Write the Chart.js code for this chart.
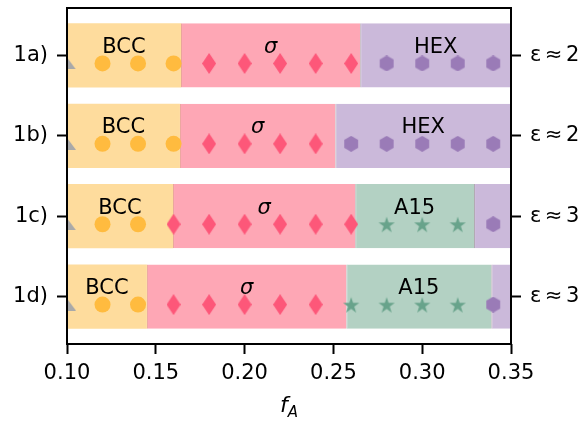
<!DOCTYPE html>
<html>
<head>
<meta charset="utf-8">
<script src="https://cdn.jsdelivr.net/npm/chart.js@4/dist/chart.umd.min.js"></script>
<style>
  html, body { margin: 0; padding: 0; background: #fff; }
  canvas { display: block; }
</style>
</head>
<body>
<canvas id="c" width="582" height="422" style="width:582px;height:422px"></canvas>
<script>
// Row labels (left) and interaction strength (right)
const rowLabels = ['1a)', '1b)', '1c)', '1d)'];
const epsLabels = ['ε\u2006≈\u20062', 'ε\u2006≈\u20062', 'ε\u2006≈\u20063', 'ε\u2006≈\u20063'];
const xTicks = [0.10, 0.15, 0.20, 0.25, 0.30, 0.35];
const fMin = 0.10;
const fMax = 0.35;

// Phase boundaries along f_A for each row
const bccEnd   = [0.1642, 0.1636, 0.1597, 0.1450];
const sigmaEnd = [0.2651, 0.2511, 0.2623, 0.2573];
const a15End   = [null, null, 0.3292, 0.3389];

// Sampled compositions, grouped by the phase found there
const otherPts = [[0.10], [0.10], [0.10], [0.10]];
const bccPts   = [[0.12, 0.14, 0.16], [0.12, 0.14, 0.16], [0.12, 0.14], [0.12, 0.14]];
const sigmaPts = [[0.18, 0.20, 0.22, 0.24, 0.26], [0.18, 0.20, 0.22, 0.24],
                  [0.16, 0.18, 0.20, 0.22, 0.24, 0.26], [0.16, 0.18, 0.20, 0.22, 0.24]];
const a15Pts   = [[], [], [0.28, 0.30, 0.32], [0.26, 0.28, 0.30, 0.32]];
const hexPts   = [[0.28, 0.30, 0.32, 0.34], [0.26, 0.28, 0.30, 0.32, 0.34], [0.34], [0.34]];

const FONT = "'DejaVu Sans', 'Liberation Sans', sans-serif";
const FS = 21;
const MARKER_SHIFT = 0.10;   // markers sit in the lower half of each band
const LABEL_SHIFT = -0.03;   // phase names sit in the upper half (baseline)

// ---- marker glyphs -------------------------------------------------------
function glyph(w, h, color, path) {
  const c = document.createElement('canvas');
  c.width = w; c.height = h;
  const g = c.getContext('2d');
  g.fillStyle = color;
  g.beginPath();
  path(g, w, h);
  g.closePath();
  g.fill();
  return c;
}
const triGlyph = glyph(18, 12, '#a9a9a9', (g, w, h) => {
  g.moveTo(w / 2, 0); g.lineTo(w, h); g.lineTo(0, h);
});
const diamondGlyph = glyph(14, 21, '#fd5779', (g, w, h) => {
  g.moveTo(w / 2, 0); g.lineTo(w, h / 2); g.lineTo(w / 2, h); g.lineTo(0, h / 2);
});
const hexGlyph = glyph(16, 16, '#9a7bb7', (g, w, h) => {
  const r = 8;
  for (let k = 0; k < 6; k++) {
    const a = -Math.PI / 2 + k * Math.PI / 3;
    const px = w / 2 + r * Math.cos(a), py = h / 2 + r * Math.sin(a);
    k ? g.lineTo(px, py) : g.moveTo(px, py);
  }
});
const starGlyph = glyph(18, 18, '#68a38b', (g, w, h) => {
  const R = 8.5, r = R * 0.382;
  for (let k = 0; k < 10; k++) {
    const a = -Math.PI / 2 + k * Math.PI / 5;
    const rr = k % 2 ? r : R;
    const px = w / 2 + rr * Math.cos(a), py = h / 2 + 1 + rr * Math.sin(a);
    k ? g.lineTo(px, py) : g.moveTo(px, py);
  }
});

// ---- phase bands -----------------------------------------------------------
const bands = { BCC: [], sigma: [], A15: [], HEX: [] };
rowLabels.forEach((_, i) => {
  bands.BCC.push({ y: i, x: [fMin, bccEnd[i]] });
  bands.sigma.push({ y: i, x: [bccEnd[i], sigmaEnd[i]] });
  if (a15End[i] !== null) bands.A15.push({ y: i, x: [sigmaEnd[i], a15End[i]] });
  bands.HEX.push({ y: i, x: [a15End[i] !== null ? a15End[i] : sigmaEnd[i], fMax] });
});

function bandSet(data, fill, edge) {
  return {
    type: 'bar', indexAxis: 'y', data,
    xAxisID: 'x', yAxisID: 'y',
    backgroundColor: fill,
    borderColor: edge,
    borderWidth: { left: edge ? 1 : 0, right: 0, top: 0, bottom: 0 },
    borderSkipped: false,
    grouped: false,
    categoryPercentage: 1.0,
    barPercentage: 0.8,
    order: 10
  };
}

function pointSet(rows, style, radius) {
  const data = [];
  rows.forEach((xs, i) => xs.forEach(x => data.push({ x, y: i + MARKER_SHIFT })));
  return {
    type: 'scatter', data,
    xAxisID: 'x', yAxisID: 'y',
    pointStyle: style,
    pointRadius: radius,
    backgroundColor: '#ffbb3f',
    borderWidth: 0,
    showLine: false,
    clip: 0,
    order: 0
  };
}

const datasets = [
  bandSet(bands.BCC, '#fedc9d', null),
  bandSet(bands.sigma, '#fea7b5', '#eaa39a'),
  bandSet(bands.A15, '#b3d1c3', '#a2aaa6'),
  bandSet(bands.HEX, '#cbb9da', '#a9a0aa'),
  pointSet(otherPts, triGlyph, 8),
  pointSet(bccPts, 'circle', 8),
  pointSet(sigmaPts, diamondGlyph, 8),
  pointSet(a15Pts, starGlyph, 8),
  pointSet(hexPts, hexGlyph, 8)
];

// ---- phase names inside each band -----------------------------------------
const phaseNames = { BCC: 'BCC', sigma: 'σ', A15: 'A15', HEX: 'HEX' };
const phaseLabels = {
  id: 'phaseLabels',
  afterDatasetsDraw(chart) {
    const { ctx, scales: { x, y } } = chart;
    ctx.save();
    ctx.fillStyle = '#000';
    ctx.textAlign = 'center';
    ctx.textBaseline = 'alphabetic';
    Object.keys(bands).forEach(key => {
      bands[key].forEach(b => {
        const [a, e] = b.x;
        if (e - a < 0.03) return;
        ctx.font = (key === 'sigma' ? 'italic ' : '') + FS + 'px ' + FONT;
        ctx.fillText(phaseNames[key], x.getPixelForValue((a + e) / 2),
                     y.getPixelForValue(b.y + LABEL_SHIFT));
      });
    });
    ctx.restore();
  }
};

// ---- axes frame and x-axis title ------------------------------------------
const frame = {
  id: 'frame',
  afterDraw(chart) {
    const { ctx, chartArea: a } = chart;
    ctx.save();
    ctx.strokeStyle = '#000';
    ctx.lineWidth = 2;
    ctx.strokeRect(a.left, a.top, a.right - a.left, a.bottom - a.top);
    // f_A
    const cx = (a.left + a.right) / 2;
    ctx.fillStyle = '#000';
    ctx.textBaseline = 'alphabetic';
    ctx.textAlign = 'left';
    ctx.font = 'italic 22px ' + FONT;
    const fw = ctx.measureText('f').width;
    ctx.font = 'italic 15px ' + FONT;
    const aw = ctx.measureText('A').width;
    const x0 = cx - (fw + aw) / 2;
    ctx.font = 'italic 22px ' + FONT;
    ctx.fillText('f', x0, 412);
    ctx.font = 'italic 15px ' + FONT;
    ctx.fillText('A', x0 + fw, 417);
    ctx.restore();
  }
};

const tickGrid = {
  display: true, drawOnChartArea: false, drawTicks: true, offset: false,
  tickLength: 10, tickWidth: 2, tickColor: '#000', color: '#000'
};

function fixWidth(w) {
  return s => { s.width = w; s.paddingTop = 0; s.paddingBottom = 0; };
}

new Chart(document.getElementById('c'), {
  data: { datasets },
  options: {
    responsive: false,
    animation: false,
    events: [],
    layout: { padding: { top: 6, left: 0, right: 0, bottom: 0 } },
    plugins: { legend: { display: false }, tooltip: { enabled: false } },
    scales: {
      x: {
        type: 'linear', position: 'bottom', min: fMin, max: fMax, offset: false,
        afterBuildTicks: s => { s.ticks = xTicks.map(v => ({ value: v })); },
        afterFit: s => { s.height = 78; s.paddingLeft = 0; s.paddingRight = 0; },
        ticks: { callback: v => v.toFixed(2), font: { family: FONT, size: FS }, color: '#000', padding: 7, maxRotation: 0 },
        grid: tickGrid,
        border: { display: false }
      },
      y: {
        type: 'linear', position: 'left', min: -0.59, max: 3.59, reverse: true, offset: false,
        afterBuildTicks: s => { s.ticks = rowLabels.map((_, i) => ({ value: i })); },
        afterFit: fixWidth(67),
        ticks: { callback: v => rowLabels[v], font: { family: FONT, size: FS }, color: '#000', padding: 9 },
        grid: tickGrid,
        border: { display: false }
      },
      y2: {
        type: 'linear', position: 'right', min: -0.59, max: 3.59, reverse: true, offset: false,
        afterBuildTicks: s => { s.ticks = epsLabels.map((_, i) => ({ value: i })); },
        afterFit: fixWidth(71),
        ticks: { callback: v => epsLabels[v], font: { family: FONT, size: FS }, color: '#000', padding: 9 },
        grid: tickGrid,
        border: { display: false }
      }
    }
  },
  plugins: [phaseLabels, frame]
});
</script>
</body>
</html>
